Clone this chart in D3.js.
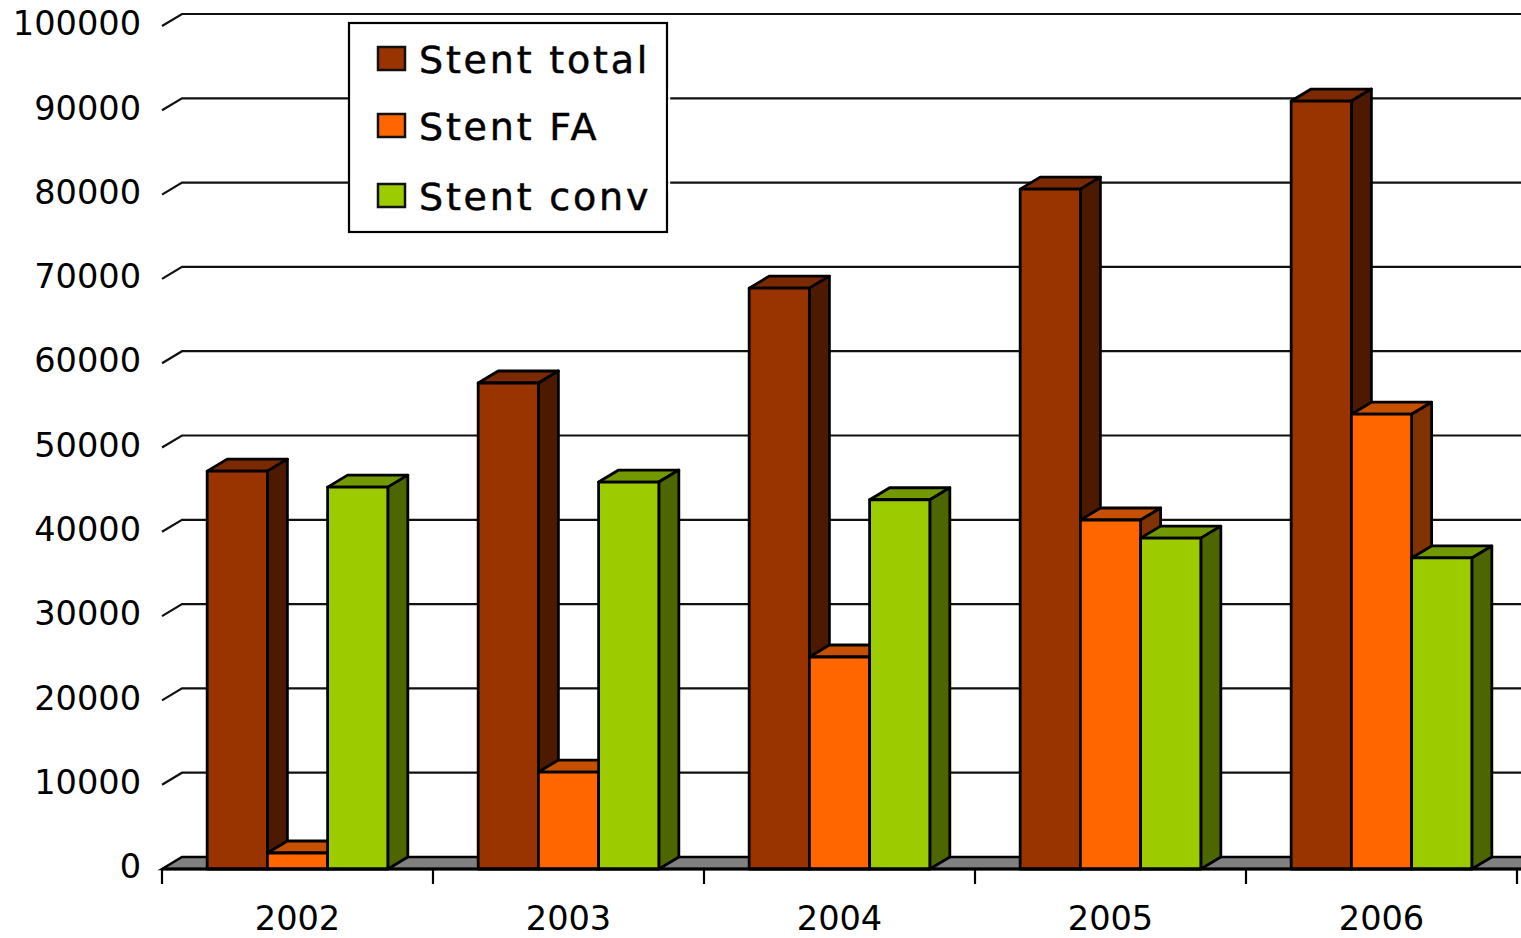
<!DOCTYPE html>
<html>
<head>
<meta charset="utf-8">
<script src="https://cdn.jsdelivr.net/npm/d3@7"></script>
<style>
  html, body { margin: 0; padding: 0; background: #fff; overflow: hidden; }
  text { font-family: "DejaVu Sans", sans-serif; fill: #000; }
</style>
</head>
<body>
<div id="chart"></div>
<script>
const years = ["2002", "2003", "2004", "2005", "2006"];
const seriesNames = ["Stent total", "Stent FA", "Stent conv"];
const stentTotal = [47200, 57650, 68900, 80650, 91100];
const stentFA = [1900, 11500, 25150, 41400, 53950];
const stentConv = [45300, 45900, 43800, 39250, 36900];
const yTicks = [0, 10000, 20000, 30000, 40000, 50000, 60000, 70000, 80000, 90000, 100000];

const seriesValues = [stentTotal, stentFA, stentConv];
const frontColors = ["#993300", "#ff6600", "#9ccc00"];
const topColors = ["#7a2900", "#c65000", "#739900"];
const sideColors = ["#4d1a00", "#803300", "#4d6600"];

const width = 1521;
const height = 938;
const depthX = 20;
const depthY = 12;

const svg = d3
  .select("#chart")
  .append("svg")
  .attr("width", width)
  .attr("height", height)
  .style("display", "block");

const x0 = d3
  .scaleBand()
  .domain(years)
  .range([162, 1517])
  .paddingInner(1 / 3)
  .paddingOuter(1 / 6);
const x1 = d3.scaleBand().domain(seriesNames).range([0, x0.bandwidth()]);
const y = d3.scaleLinear().domain([0, 100000]).range([869, 26]);

const left = x0.range()[0];
const right = x0.range()[1];
const line = d3.line();

// floor
svg
  .append("path")
  .attr(
    "d",
    line([
      [left, y(0)],
      [left + depthX, y(0) - depthY],
      [right + depthX + 20, y(0) - depthY],
      [right + 20, y(0)],
    ]) + "Z",
  )
  .attr("fill", "#808080")
  .attr("stroke", "#000")
  .attr("stroke-width", 2.5);

// gridlines with the slanted bit on the left
svg
  .append("g")
  .selectAll("path")
  .data(yTicks.slice(1))
  .join("path")
  .attr("d", (d) =>
    line([
      [left, y(d)],
      [left + depthX, y(d) - depthY],
      [width + 5, y(d) - depthY],
    ]),
  )
  .attr("fill", "none")
  .attr("stroke", "#111")
  .attr("stroke-width", 2.2);

// bars, one series after the other so the later ones cover the side faces
const groups = svg
  .append("g")
  .selectAll("g")
  .data(years)
  .join("g")
  .attr("transform", (d) => `translate(${x0(d)},0)`);

const bars = groups
  .selectAll("g")
  .data((d, i) => seriesNames.map((name, s) => ({ name, s, value: seriesValues[s][i] })))
  .join("g")
  .attr("stroke", "#000")
  .attr("stroke-width", 2.8)
  .attr("stroke-linejoin", "round");

bars
  .append("path")
  .attr("fill", (d) => topColors[d.s])
  .attr("d", (d) => {
    const a = x1(d.name);
    const b = a + x1.bandwidth();
    const t = y(d.value);
    return (
      line([
        [a, t],
        [a + depthX, t - depthY],
        [b + depthX, t - depthY],
        [b, t],
      ]) + "Z"
    );
  });

bars
  .append("path")
  .attr("fill", (d) => sideColors[d.s])
  .attr("d", (d) => {
    const b = x1(d.name) + x1.bandwidth();
    return (
      line([
        [b, y(d.value)],
        [b + depthX, y(d.value) - depthY],
        [b + depthX, y(0) - depthY],
        [b, y(0)],
      ]) + "Z"
    );
  });

bars
  .append("rect")
  .attr("fill", (d) => frontColors[d.s])
  .attr("x", (d) => x1(d.name))
  .attr("y", (d) => y(d.value))
  .attr("width", x1.bandwidth())
  .attr("height", (d) => y(0) - y(d.value));

// x axis line and ticks between the years
svg
  .append("path")
  .attr("d", line([[left, y(0)], [width + 5, y(0)]]))
  .attr("stroke", "#000")
  .attr("stroke-width", 2.8);

svg
  .append("g")
  .selectAll("line")
  .data(years.concat("end"))
  .join("line")
  .attr("x1", (d, i) => left + i * x0.step())
  .attr("x2", (d, i) => left + i * x0.step())
  .attr("y1", y(0))
  .attr("y2", y(0) + 15)
  .attr("stroke", "#000")
  .attr("stroke-width", 2.2);

// labels
const yAxis = svg
  .append("g")
  .attr("transform", "translate(141,-2)")
  .call(d3.axisLeft(y).tickValues(yTicks).tickSize(0).tickPadding(0).tickFormat(d3.format("d")));
yAxis.select(".domain").remove();
yAxis.selectAll("text").style("font-family", '"DejaVu Sans", sans-serif').style("font-size", "33.6px");

const xAxis = svg
  .append("g")
  .attr("transform", "translate(0,906.3)")
  .call(d3.axisBottom(x0).tickSize(0).tickPadding(0));
xAxis.select(".domain").remove();
xAxis.selectAll("text").style("font-family", '"DejaVu Sans", sans-serif').style("font-size", "33.6px");

// legend
const legend = svg.append("g");
legend
  .append("rect")
  .attr("x", 349)
  .attr("y", 23)
  .attr("width", 318)
  .attr("height", 209)
  .attr("fill", "#fff")
  .attr("stroke", "#000")
  .attr("stroke-width", 2.2);
// small white gap where the gridlines meet the box on the right
legend
  .append("rect")
  .attr("x", 668.2)
  .attr("y", 90)
  .attr("width", 2)
  .attr("height", 100)
  .attr("fill", "#fff");

const legendY = [59, 126, 196];
const items = legend
  .selectAll(".item")
  .data(seriesNames)
  .join("g")
  .attr("class", "item")
  .attr("transform", (d, i) => `translate(0,${legendY[i]})`);
items
  .append("rect")
  .attr("x", 378)
  .attr("y", -12)
  .attr("width", 27)
  .attr("height", 23)
  .attr("fill", (d, i) => frontColors[i])
  .attr("stroke", "#111")
  .attr("stroke-width", 2.5);
items
  .append("text")
  .attr("x", 419)
  .attr("y", 14)
  .style("font-size", "38px")
  .style("letter-spacing", "2.8px")
  .style("stroke", "#000")
  .style("stroke-width", "0.5px")
  .text((d) => d);
</script>
</body>
</html>
